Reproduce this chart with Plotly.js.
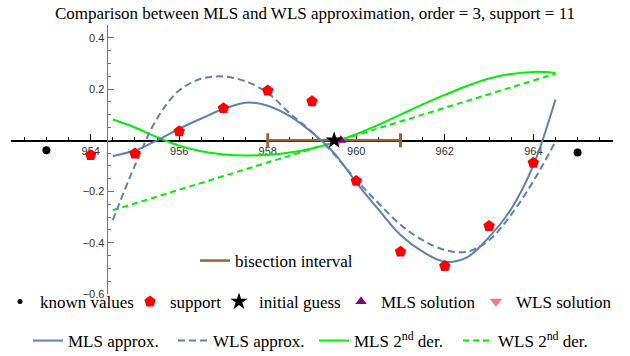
<!DOCTYPE html>
<html>
<head>
<meta charset="utf-8">
<script src="https://cdn.plot.ly/plotly-3.0.1.min.js"></script>
<style>html,body{margin:0;padding:0;background:#fff;}#chart{width:630px;height:356px;}</style>
</head>
<body>
<div id="chart"></div>
<script>
// ---- data ----
const knownX = [953, 965];
const knownY = [-0.039, -0.048];

const supportX = [954, 955, 956, 957, 958, 959, 960, 961, 962, 963, 964];
const supportY = [-0.058, -0.052, 0.035, 0.125, 0.194, 0.152, -0.159, -0.435, -0.491, -0.335, -0.088];

const guessX = [959.5];
const guessY = [0];
const mlsSolX = [959.65];
const mlsSolY = [0];
const wlsSolX = [959.6];
const wlsSolY = [0];

const bisectX = [958, 961];
const bisectY = [0, 0];

const curveX = [954.5, 955, 955.5, 956, 956.5, 957, 957.5, 958, 958.5, 959, 959.5,
                960, 960.5, 961, 961.5, 962, 962.5, 963, 963.5, 964, 964.5];
const mlsApprox = [-0.061, -0.040, 0.000, 0.045, 0.085, 0.122, 0.147, 0.135, 0.094, 0.030, -0.050,
                   -0.165, -0.270, -0.370, -0.435, -0.474, -0.457, -0.378, -0.268, -0.098, 0.159];
const wlsApprox = [-0.312, -0.098, 0.085, 0.195, 0.240, 0.249, 0.230, 0.185, 0.105, 0.032, -0.055,
                   -0.155, -0.245, -0.330, -0.390, -0.428, -0.435, -0.390, -0.290, -0.160, -0.005];
const mls2nd = [0.081, 0.050, 0.012, -0.021, -0.043, -0.055, -0.059, -0.057, -0.048, -0.032, -0.008,
                0.024, 0.060, 0.100, 0.140, 0.177, 0.212, 0.241, 0.259, 0.267, 0.263];
const wls2ndX = [954.5, 959.6, 964.5];
const wls2nd = [-0.273, 0, 0.260];

const xTickVals = [954, 956, 958, 960, 962, 964];
const xTickText = ['954', '956', '958', '960', '962', '964'];
const yTickVals = [-0.6, -0.4, -0.2, 0.2, 0.4];
const yTickText = ['\u22120.6', '\u22120.4', '\u22120.2', '0.2', '0.4'];

// ---- styles ----
const BLUE = '#5E81B5', GREEN = '#00F000', BROWN = '#996633';
const SERIF = 'Liberation Serif, Times New Roman, serif';
const SANS = 'Liberation Sans, Arial, sans-serif';

const traces = [
  {x: bisectX, y: bisectY, mode: 'lines', line: {color: BROWN, width: 2.5},
   name: 'bisection interval', legend: 'legend10'},
  {x: bisectX, y: bisectY, mode: 'markers', showlegend: false,
   marker: {symbol: 'line-ns', size: 10, line: {color: BROWN, width: 3}}},
  {x: curveX, y: mls2nd, mode: 'lines', line: {color: GREEN, width: 2, shape: 'spline'},
   name: 'MLS 2<sup>nd</sup> der.', legend: 'legend8'},
  {x: wls2ndX, y: wls2nd, mode: 'lines', line: {color: GREEN, width: 2, dash: '6px,4px'},
   name: 'WLS 2<sup>nd</sup> der.', legend: 'legend9'},
  {x: curveX, y: mlsApprox, mode: 'lines', line: {color: BLUE, width: 2, shape: 'spline'},
   name: 'MLS approx.', legend: 'legend6'},
  {x: curveX, y: wlsApprox, mode: 'lines', line: {color: BLUE, width: 2, shape: 'spline', dash: '7px,4px'},
   name: 'WLS approx.', legend: 'legend7'},
  {x: knownX, y: knownY, mode: 'markers', marker: {color: '#000', size: 8},
   name: 'known values', showlegend: false},
  {x: [null], y: [null], mode: 'markers', marker: {color: '#000', size: 5},
   name: 'known values', legend: 'legend'},
  {x: supportX, y: supportY, mode: 'markers', marker: {color: '#FF0000', size: 12, symbol: 'pentagon'},
   name: 'support', legend: 'legend2'},
  {x: wlsSolX, y: wlsSolY, mode: 'markers', marker: {color: '#F08080', size: 11, symbol: 'triangle-down'},
   name: 'WLS solution', legend: 'legend5'},
  {x: mlsSolX, y: mlsSolY, mode: 'markers', marker: {color: '#800080', size: 10, symbol: 'triangle-up'},
   name: 'MLS solution', legend: 'legend4'},
  {x: guessX, y: guessY, mode: 'markers', marker: {color: '#000', size: 13, symbol: 'star'},
   name: 'initial guess', legend: 'legend3'}
];

function leg(px, py) {
  return {orientation: 'h', bgcolor: 'rgba(0,0,0,0)', font: {family: SERIF, size: 17, color: '#000'},
          xref: 'container', yref: 'container', x: px / 630, y: 1 - py / 356,
          xanchor: 'left', yanchor: 'middle'};
}

const layout = {
  width: 630, height: 356,
  margin: {l: 11, r: 17, t: 25, b: 62, autoexpand: false},
  paper_bgcolor: '#fff', plot_bgcolor: '#fff',
  title: {text: 'Comparison between MLS and WLS approximation, order = 3, support = 11',
          font: {family: SERIF, size: 17, color: '#000'}, x: 0.5, xanchor: 'center', y: 0.963, yanchor: 'middle'},
  xaxis: {range: [952.2, 965.8], anchor: 'free', position: 0.5714, showline: true, linecolor: '#000', linewidth: 1.3,
          ticks: 'inside', ticklen: 6, tickwidth: 1, tickcolor: '#000',
          tickmode: 'array', tickvals: xTickVals, ticktext: xTickText,
          tickfont: {family: SANS, size: 11, color: '#333'},
          minor: {tickmode: 'linear', tick0: 952, dtick: 0.5, ticks: 'inside', ticklen: 3.5, tickcolor: '#000'},
          showgrid: false, zeroline: false, layer: 'below traces', fixedrange: true, automargin: false},
  yaxis: {range: [-0.6, 0.45], anchor: 'free', position: 0.1588, showline: true, linecolor: '#777', linewidth: 1.3,
          ticks: 'inside', ticklen: 6, tickwidth: 1, tickcolor: '#777',
          tickmode: 'array', tickvals: yTickVals, ticktext: yTickText,
          tickfont: {family: SANS, size: 11, color: '#333'},
          minor: {tickmode: 'linear', tick0: 0, dtick: 0.05, ticks: 'inside', ticklen: 3.5, tickcolor: '#777'},
          showgrid: false, zeroline: false, layer: 'below traces', fixedrange: true, automargin: false},
  legend: leg(-5, 302),
  legend2: leg(130, 302),
  legend3: leg(219, 302),
  legend4: leg(341, 302),
  legend5: leg(476, 302),
  legend6: leg(28, 341),
  legend7: leg(173, 341),
  legend8: leg(314, 341),
  legend9: leg(458, 341),
  legend10: leg(195, 261),
  showlegend: true
};

Plotly.newPlot('chart', traces, layout, {displayModeBar: false, staticPlot: true});
</script>
</body>
</html>
